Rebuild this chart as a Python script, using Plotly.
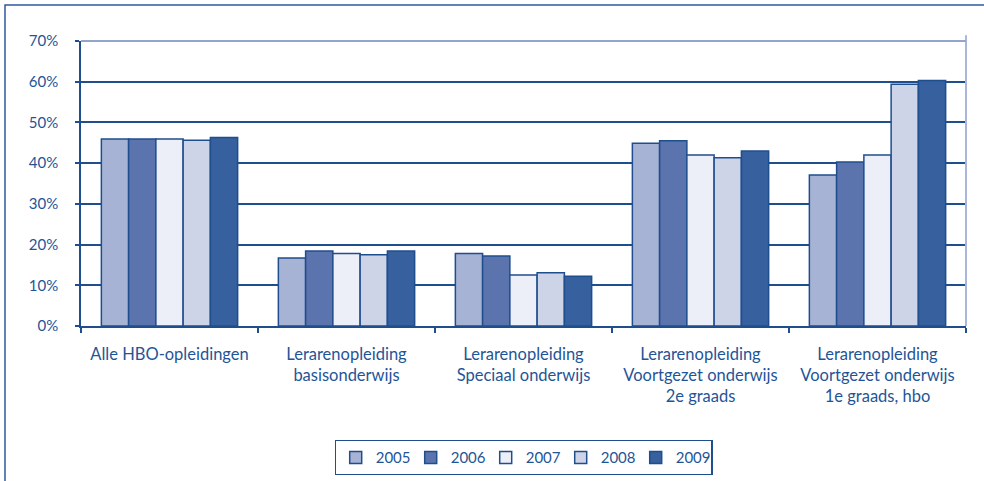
import plotly.graph_objects as go

# Categories (opleidingen) and yearly shares (%)
categories = [
    "Alle HBO-opleidingen",
    "Lerarenopleiding<br>basisonderwijs",
    "Lerarenopleiding<br>Speciaal onderwijs",
    "Lerarenopleiding<br>Voortgezet onderwijs<br>2e graads",
    "Lerarenopleiding<br>Voortgezet onderwijs<br>1e graads, hbo",
]
years = ["2005", "2006", "2007", "2008", "2009"]
values_2005 = [45.9, 16.7, 17.8, 44.9, 37.1]
values_2006 = [45.9, 18.4, 17.2, 45.5, 40.3]
values_2007 = [45.9, 17.8, 12.5, 42.0, 42.0]
values_2008 = [45.6, 17.5, 13.1, 41.3, 59.4]
values_2009 = [46.3, 18.4, 12.2, 43.0, 60.3]
series = [values_2005, values_2006, values_2007, values_2008, values_2009]
y_ticks = [0, 10, 20, 30, 40, 50, 60, 70]

colors = ["#A6B3D5", "#5B74AE", "#ECEFF7", "#CED4E7", "#36609E"]
ink = "#1F4E8F"
text_ink = "#1F5597"
font_family = "Lato, 'Open Sans', sans-serif"

fig = go.Figure()
for year, vals, col in zip(years, series, colors):
    fig.add_trace(go.Bar(
        name=year,
        x=categories,
        y=vals,
        marker=dict(color=col, line=dict(color=ink, width=1.5)),
    ))

fig.update_layout(
    width=984,
    height=481,
    margin=dict(l=81, r=18, t=41, b=155, autoexpand=False),
    paper_bgcolor="white",
    plot_bgcolor="white",
    barmode="group",
    bargap=0.23,
    bargroupgap=0,
    font=dict(family=font_family, size=15, color=text_ink),
    showlegend=True,
    legend=dict(
        orientation="h",
        x=0.5, xanchor="center",
        y=-0.40, yanchor="top",
        bordercolor=ink, borderwidth=1.2,
        font=dict(size=15, color=text_ink),
        traceorder="normal",
        itemwidth=30,
        entrywidth=30,
        tracegroupgap=0,
    ),
    xaxis=dict(
        type="category",
        automargin=False,
        showline=True, linecolor=ink, linewidth=1.5,
        ticks="outside", tickson="boundaries", ticklen=5, tickcolor=ink, tickwidth=1.5,
        ticklabelstandoff=12,
        tickfont=dict(size=16.5, color=text_ink),
        showgrid=False,
    ),
    yaxis=dict(
        range=[0, 70],
        automargin=False,
        tickvals=y_ticks,
        ticktext=[f"{v}%" for v in y_ticks],
        showline=True, linecolor=ink, linewidth=1.5,
        ticks="outside", ticklen=4, tickcolor=ink, tickwidth=1.5,
        ticklabelstandoff=14,
        tickfont=dict(size=15, color=text_ink),
        showgrid=True, gridcolor=ink, gridwidth=1.5,
        zeroline=False,
    ),
    shapes=[
        # outer frame of the figure
        dict(type="rect", xref="paper", yref="paper",
             x0=-76 / 885, x1=1.05, y0=-0.7, y1=1 + 36 / 285,
             line=dict(color="#2E5A9A", width=1.5), layer="below"),
        # light right edge and top line of the plot area
        dict(type="line", xref="paper", yref="paper", x0=1, x1=1, y0=0, y1=1.02,
             line=dict(color="#A9B6D8", width=2)),
        dict(type="line", xref="paper", yref="paper", x0=0, x1=1, y0=1, y1=1,
             line=dict(color="#93A5CF", width=2)),
    ],
)

fig.write_html("out.html")
